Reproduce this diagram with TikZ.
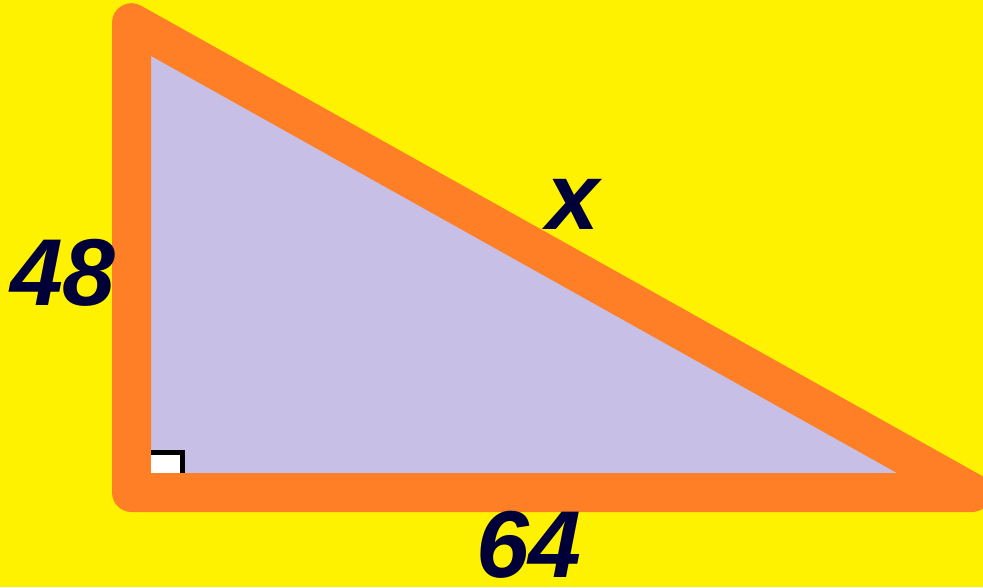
\documentclass[tikz,border=0pt]{standalone}
\usepackage{fontspec}
\setmainfont{Liberation Sans}
\definecolor{bgyellow}{HTML}{FFF200}
\definecolor{triorange}{HTML}{FF7F27}
\definecolor{trilav}{HTML}{C8BFE7}
\definecolor{labnavy}{HTML}{000038}
\tikzset{
  tri/.style={draw=triorange, fill=trilav, line width=39pt, line join=round},
  lab/.style={text=labnavy, inner sep=0pt, anchor=base, font=\fontsize{95}{100}\selectfont\bfseries\itshape},
  rightmark/.style={draw=black, line width=5pt}
}
\begin{document}
\begin{tikzpicture}[x=1pt,y=-1pt]
\fill[bgyellow] (0,0) rectangle (983,587);
\useasboundingbox (0,0) rectangle (983,587);
\coordinate (A) at (131.5,22.7);
\coordinate (B) at (131.5,492.5);
\coordinate (C) at (971.8,492.5);
\filldraw[tri] (A) -- (B) -- (C) -- cycle;
\fill[white] (151,450) rectangle (185,473);
\coordinate (m1) at (151,452.5);
\coordinate (m2) at (182.5,452.5);
\coordinate (m3) at (182.5,473);
\draw[rightmark] (m1) -- (m2) -- (m3);
\node[lab] (l48) at (63,305) {48};
\node[lab] (lx) at (573,229) {x};
\node[lab] (l64) at (529,577) {64};
\end{tikzpicture}
\end{document}
